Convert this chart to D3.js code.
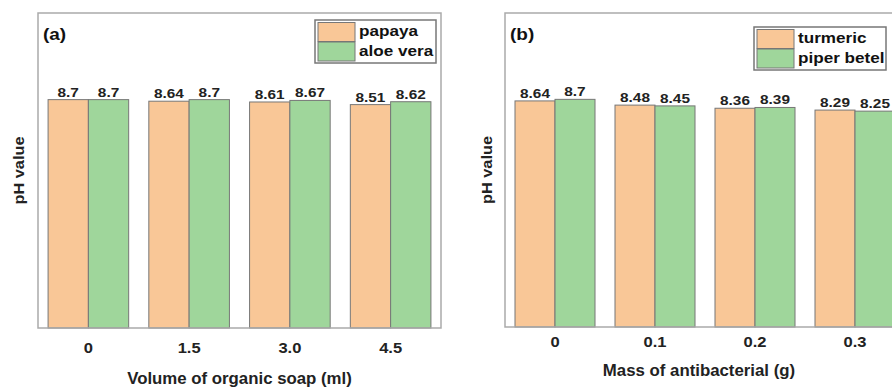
<!DOCTYPE html>
<html>
<head>
<meta charset="utf-8">
<script src="https://cdn.jsdelivr.net/npm/d3@7"></script>
<style>
  body { margin: 0; background: #fff; }
  svg { display: block; font-family: "Liberation Sans", Arial, sans-serif; }
</style>
</head>
<body>
<div id="chart"></div>
<script>
// panel (a)
const soapVolumes = ['0', '1.5', '3.0', '4.5'];
const papaya = [8.7, 8.64, 8.61, 8.51];
const aloeVera = [8.7, 8.7, 8.67, 8.62];
const soapLabels = ['papaya', 'aloe vera'];

// panel (b)
const antibacterialMass = ['0', '0.1', '0.2', '0.3'];
const turmeric = [8.64, 8.48, 8.36, 8.29];
const piperBetel = [8.7, 8.45, 8.39, 8.25];
const massLabels = ['turmeric', 'piper betel'];

const colors = ['#f9c797', '#9fd69b'];

const svg = d3.select('#chart').append('svg')
    .attr('width', 892)
    .attr('height', 387);

// the original font is wider than Liberation, so stretch the glyphs a bit
function widen(sel, k) {
    sel.each(function () {
        const len = this.getComputedTextLength();
        d3.select(this)
            .attr('textLength', len * k)
            .attr('lengthAdjust', 'spacingAndGlyphs');
    });
}

function drawPanel(opt) {
    const g = svg.append('g');
    const x = d3.scaleBand()
        .domain(opt.categories)
        .range([opt.left, opt.right])
        .paddingInner(0.2)
        .paddingOuter(0.1);
    const x1 = d3.scaleBand()
        .domain([0, 1])
        .range([0, x.bandwidth()]);
    const y = d3.scaleLinear()
        .domain([0, 12])
        .range([opt.bottom, opt.top]);

    const rows = opt.categories.map((c, i) => ({ cat: c, vals: opt.series.map(s => s[i]) }));

    const groups = g.selectAll('.grp').data(rows).join('g')
        .attr('transform', d => `translate(${x(d.cat)},0)`);

    groups.selectAll('rect').data(d => d.vals).join('rect')
        .attr('x', (d, i) => x1(i))
        .attr('y', d => y(d))
        .attr('width', x1.bandwidth())
        .attr('height', d => y(0) - y(d))
        .attr('fill', (d, i) => colors[i])
        .attr('stroke', '#777')
        .attr('stroke-width', 1);

    groups.selectAll('text').data(d => d.vals).join('text')
        .attr('x', (d, i) => x1(i) + x1.bandwidth() / 2)
        .attr('y', d => y(d) - 3)
        .attr('text-anchor', 'middle')
        .style('font-size', '12px')
        .style('font-weight', 'bold')
        .style('fill', '#222')
        .text(d => d)
        .call(widen, 1.28);

    // frame
    g.append('rect')
        .attr('x', opt.left).attr('y', opt.top)
        .attr('width', opt.right - opt.left).attr('height', opt.bottom - opt.top)
        .attr('fill', 'none')
        .attr('stroke', '#aaa')
        .attr('stroke-width', 1.5);

    // x ticks
    const xAxis = g.append('g')
        .attr('transform', `translate(0,${opt.bottom})`)
        .call(d3.axisBottom(x).tickSize(0).tickPadding(opt.tickPad));
    xAxis.select('.domain').remove();
    xAxis.selectAll('text')
        .style('font-size', '14px')
        .style('font-weight', 'bold')
        .style('fill', '#222')
        .style('font-family', '"Liberation Sans", Arial, sans-serif')
        .call(widen, 1.18);

    g.append('text')
        .attr('x', (opt.left + opt.right) / 2 + opt.titleShift)
        .attr('y', opt.titleY)
        .attr('text-anchor', 'middle')
        .style('font-size', '16px')
        .style('font-weight', 'bold')
        .style('fill', '#222')
        .text(opt.xTitle)
        .call(widen, 1.05);

    g.append('text')
        .attr('transform', `translate(${opt.yTitleX},${(opt.top + opt.bottom) / 2}) rotate(-90)`)
        .attr('text-anchor', 'middle')
        .attr('dy', '0.35em')
        .style('font-size', '15px')
        .style('font-weight', 'bold')
        .style('fill', '#222')
        .text('pH value')
        .call(widen, 1.09);

    g.append('text')
        .attr('x', opt.left + 5)
        .attr('y', opt.top + 27)
        .style('font-size', '16.5px')
        .style('font-weight', 'bold')
        .style('fill', '#111')
        .text(opt.tag)
        .call(widen, 1.15);

    // legend
    const lg = g.append('g').attr('transform', `translate(${opt.legend.x},${opt.legend.y})`);
    lg.append('rect')
        .attr('width', opt.legend.w).attr('height', 43)
        .attr('fill', '#fff')
        .attr('stroke', '#777')
        .attr('stroke-width', 1.5);
    opt.names.forEach((n, i) => {
        lg.append('rect')
            .attr('x', 3).attr('y', 2.5 + i * 19.5)
            .attr('width', 37).attr('height', 19)
            .attr('fill', colors[i])
            .attr('stroke', '#777')
            .attr('stroke-width', 1);
        lg.append('text')
            .attr('x', 44).attr('y', 16 + i * 19.5)
            .style('font-size', '15px')
            .style('font-weight', 'bold')
            .style('fill', '#111')
            .text(n)
            .call(widen, 1.14);
    });
}

drawPanel({
    categories: soapVolumes,
    series: [papaya, aloeVera],
    names: soapLabels,
    left: 38, right: 441, top: 13, bottom: 328,
    tickPad: 15, titleY: 384, titleShift: 0, yTitleX: 19,
    xTitle: 'Volume of organic soap (ml)', tag: '(a)',
    legend: { x: 315, y: 20, w: 121 }
});

drawPanel({
    categories: antibacterialMass,
    series: [turmeric, piperBetel],
    names: massLabels,
    left: 505, right: 905, top: 13, bottom: 327,
    tickPad: 10, titleY: 376, titleShift: -6, yTitleX: 487,
    xTitle: 'Mass of antibacterial (g)', tag: '(b)',
    legend: { x: 754, y: 27, w: 132 }
});
</script>
</body>
</html>
